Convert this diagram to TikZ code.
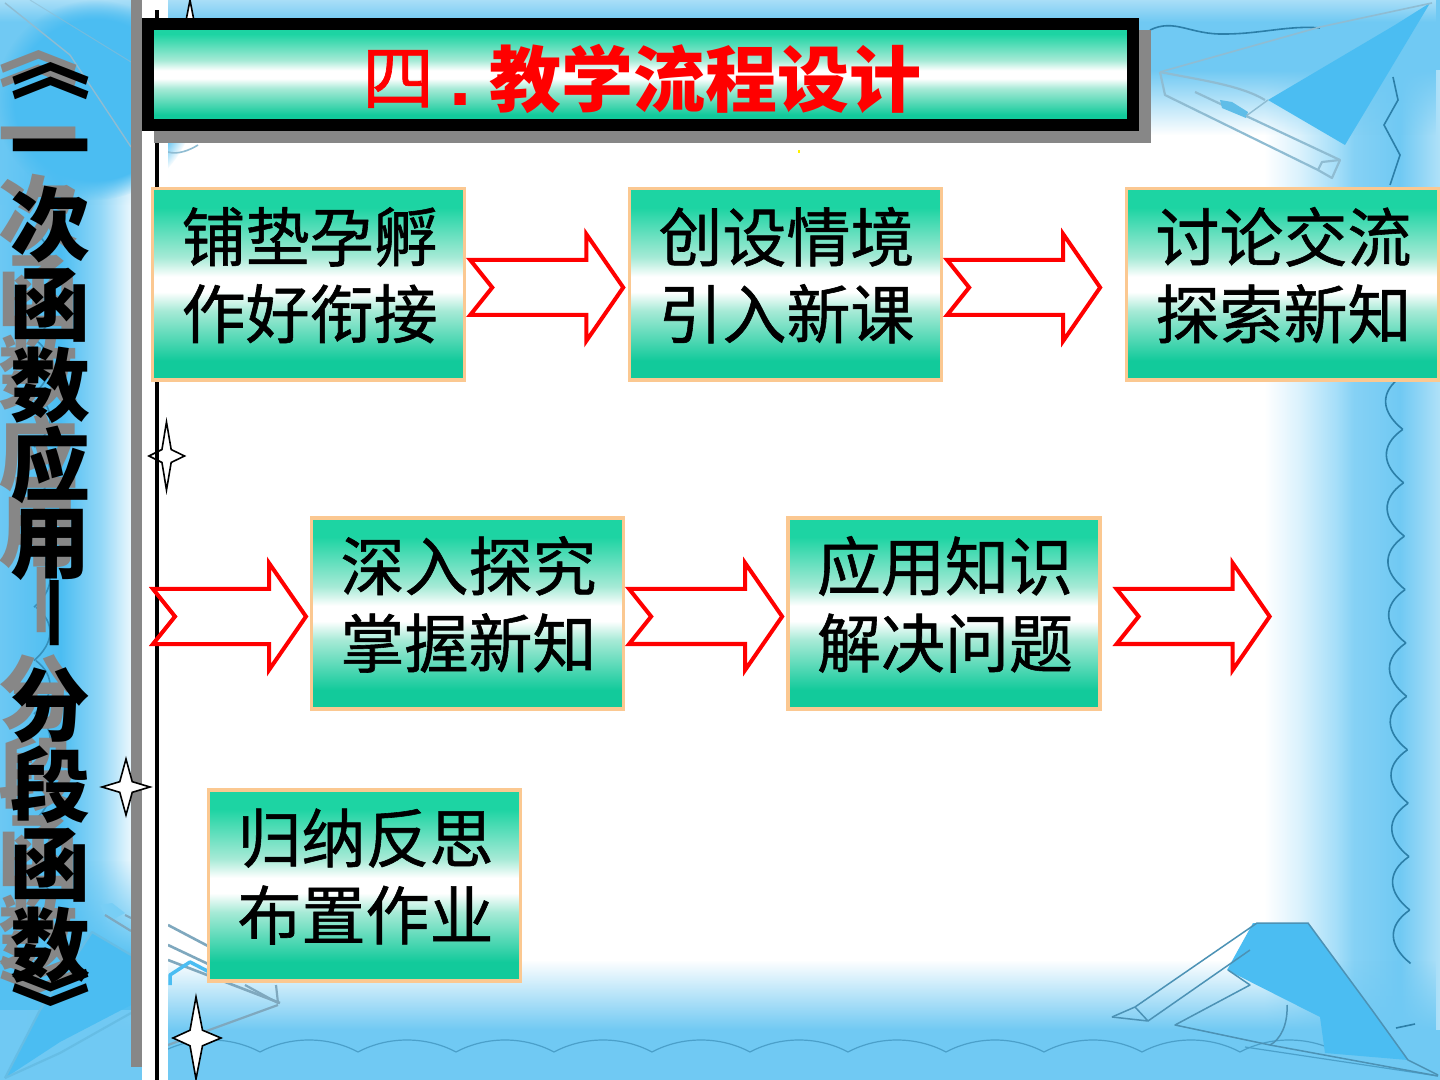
\documentclass[tikz,border=0pt]{standalone}
\usepackage{fontspec}
\usetikzlibrary{calc,fadings}
\newfontfamily\cjk{Noto Sans CJK SC}
\newfontfamily\cjkheavy[FakeBold=0.9]{Noto Sans CJK SC}
\newfontfamily\latinbold{Liberation Sans}

\definecolor{skyblue}{HTML}{70C9F3}
\definecolor{sailblue}{HTML}{4BBDF2}
\definecolor{tealgreen}{HTML}{1DD4A3}
\definecolor{tealdeep}{HTML}{12CA9B}
\definecolor{tealmid}{HTML}{A6EAD6}
\definecolor{peach}{HTML}{FBC891}
\definecolor{sidegray}{HTML}{878787}
\definecolor{waveink}{HTML}{2C7FA8}
\definecolor{boatline}{HTML}{8FBCD2}
\definecolor{boatgray}{HTML}{7FA8BE}

% side-to-side profile of the page colour
\pgfdeclarehorizontalshading{pageprofile}{100bp}{
  color(0bp)=(skyblue);
  color(25bp)=(skyblue!90!sailblue);
  color(27.1bp)=(sailblue);
  color(28.5bp)=(sailblue!60!white);
  color(29.5bp)=(sailblue!14!white);
  color(30.9bp)=(white);
  color(68.9bp)=(white);
  color(70.1bp)=(sailblue!20!white);
  color(71.4bp)=(sailblue!50!white);
  color(72.0bp)=(skyblue!85!white);
  color(73.6bp)=(skyblue);
  color(74.4bp)=(skyblue!75!white);
  color(75bp)=(skyblue!55!white);
  color(100bp)=(skyblue!55!white)}

% green band with a white stripe across the middle
\pgfdeclareverticalshading{tealband}{100bp}{
  color(0bp)=(tealdeep);
  color(25bp)=(tealdeep);
  color(30bp)=(tealdeep);
  color(43bp)=(tealmid);
  color(48bp)=(white);
  color(52bp)=(white);
  color(57bp)=(tealmid);
  color(70bp)=(tealgreen);
  color(75bp)=(tealgreen);
  color(100bp)=(tealgreen)}

\tikzfading[name=fadedown, top color=transparent!0, bottom color=transparent!100]
\tikzfading[name=fadeup, top color=transparent!100, bottom color=transparent!0]

\tikzset{
  x=0.75pt, y=-0.75pt,
  flowbox/.style={rectangle, draw=peach, line width=3.5*0.75pt, shading=tealband,
    minimum width=311.8*0.75pt, minimum height=191.2*0.75pt, inner sep=0pt},
  flowtext/.style={align=center, inner sep=0pt, text=black,
    font=\cjkheavy\fontsize{48}{57.75}\selectfont},
  titleframe/.style={rectangle, draw=black, line width=12*0.75pt, shading=tealband,
    minimum width=985*0.75pt, minimum height=101*0.75pt, inner sep=0pt},
  titleshadow/.style={rectangle, fill=sidegray, inner sep=0pt,
    minimum width=997*0.75pt, minimum height=113*0.75pt},
  titletext/.style={inner sep=0pt, text=red, font=\cjkheavy\fontsize{54}{60}\selectfont},
  titlebold/.style={inner sep=0pt, text=red, font=\cjk\bfseries\fontsize{54}{60}\selectfont},
  flowarrow/.style={draw=red, fill=white, line width=4*0.75pt, line join=miter},
  sparkle/.style={draw=black, fill=white, line width=1.6*0.75pt, line join=miter},
  sideshade/.style={inner sep=0pt, text=sidegray, font=\cjk\bfseries\fontsize{60}{60}\selectfont},
  sideink/.style={inner sep=0pt, text=black, font=\cjk\bfseries\fontsize{60}{60}\selectfont},
  wave/.style={draw=waveink, line width=1.6*0.75pt},
  boat/.style={draw=boatline, line width=2.2*0.75pt, line join=round},
  boatdark/.style={draw=waveink!85!white, line width=1.5*0.75pt, line join=round},
}

\newcommand{\flowbox}[5]{%
  \node[flowbox] (#1) at (#2,#3) {};
  \node[flowtext] (#1-text) at ($(#1.center)+(1,-9)$) {#4\\#5};
}
\newcommand{\flowarrowfrom}[1]{%
  \draw[flowarrow] (#1) ++(22,0) -- ++(-22,-27.5) -- ++(116,0) -- ++(0,-26)
    -- ++(37,53.5) -- ++(-37,53.5) -- ++(0,-26) -- ++(-116,0) -- cycle;
}
\newcommand{\sparklestar}[5]{% centre x, centre y, left, right, half height
  \draw[sparkle] (#1,#2-#5)
    -- (#1+0.26*#4,#2-0.19*#5) -- (#1+#4,#2) -- (#1+0.26*#4,#2+0.19*#5)
    -- (#1,#2+#5) -- (#1-0.26*#3,#2+0.19*#5) -- (#1-#3,#2)
    -- (#1-0.26*#3,#2-0.19*#5) -- cycle;
}
% one entry per glyph of the vertical lesson title
\newcommand{\sideglyphs}[3]{%
  \foreach \n/\xx/\yy/\ch/\rr in {
    1/51/62/《/-90, 2/51/158/一/0, 3/51/225/次/0, 4/51/305/函/0, 5/51/385/数/0,
    6/51/465/应/0, 7/51/545/用/0, 8/45/613/—/-90, 9/51/705/分/0, 10/51/785/段/0,
    11/51/865/函/0, 12/51/945/数/0, 13/51/1007/》/-90} {
    \node[#1, rotate=\rr] (#2\n) at (\xx+#3,\yy+#3) {\ch};
  }
}

\begin{document}
\begin{tikzpicture}
\useasboundingbox (0,0) rectangle (1440,1080);

% page colour
\shade[shading=pageprofile] (0,0) rectangle (1440,1080);
\fill[skyblue] (0,0) rectangle (1440,70);
\fill[skyblue, path fading=fadedown] (0,70) rectangle (1440,135);
\fill[skyblue!80!sailblue, path fading=fadedown] (0,70) rectangle (131,205);
\fill[white, opacity=0.4, path fading=fadedown] (0,0) rectangle (1440,22);
\fill[sailblue, path fading=circle with fuzzy edge 20 percent] (95,100) circle (100);
\fill[skyblue] (0,1030) rectangle (1440,1080);
\fill[skyblue, path fading=fadeup] (0,960) rectangle (1440,1030);
\fill[sailblue!75!skyblue, path fading=fadeup] (0,860) rectangle (131,960);
\fill[sailblue!75!skyblue] (0,960) rectangle (131,1010);
\fill[skyblue, path fading=fadedown] (0,1010) rectangle (131,1060);

% scalloped lines along the right, left and lower edges
\draw[wave] (1393,77) -- (1398,100) -- (1384,125) -- (1400,155) -- (1390,185);
\foreach \yy in {376,429.4,...,950} {
  \pgfmathsetmacro{\nn}{\yy+53.4}
  \pgfmathsetmacro{\ca}{1402+(\yy-376)*0.0145}
  \pgfmathsetmacro{\cb}{\ca+0.8}
  \draw[wave] (\ca,\yy) .. controls (\ca-23,\yy+16) and (\ca-21,\yy+36) .. (\cb,\nn);
}
\draw[wave] (1396,1028) -- (1415,1024);
\foreach \yy in {180,233.4,...,880} {
  \pgfmathsetmacro{\nn}{\yy+53.4}
  \draw[wave, draw opacity=0.75] (36,\yy) .. controls (56,\yy+16) and (54,\yy+36) .. (34,\nn);
}
\foreach \xx in {162,260,...,1300} {
  \pgfmathsetmacro{\nn}{\xx+98}
  \draw[wave, draw=waveink!55!skyblue, line width=1.2*0.75pt]
    (\xx,1052) .. controls (\xx+30,1036) and (\xx+68,1036) .. (\nn,1052);
}
\draw[wave, draw=waveink!55!skyblue, line width=1.2*0.75pt] (1245,1047) -- (1438,1076);
\draw[wave] (1150,30) .. controls (1175,18) and (1190,35) .. (1225,34)
  .. controls (1260,34) and (1290,25) .. (1320,28);

% sailing boat at the upper right
\fill[sailblue] (1430,3) -- (1345,145) -- (1268,100) -- (1395,25) -- cycle;
\draw[boat, line width=1.6*0.75pt] (1160,72) -- (1320,27) -- (1432,3);
\draw[boat] (1160,72) -- (1165,95) -- (1318,170) -- (1332,178) -- (1340,160) -- (1195,92);
\draw[boat] (1160,72) .. controls (1200,80) and (1240,85) .. (1265,100);
\draw[boat] (1318,170) -- (1322,162) -- (1340,160);
\fill[sailblue!70!boatline] (1220,100) -- (1232,102) -- (1248,112) -- (1246,118) -- (1222,108) -- cycle;
\draw[boat, line width=1.4*0.75pt] (1246,116) -- (1268,100);

% sailing boat at the lower right
\fill[sailblue] (1253,923) -- (1308,923) -- (1408,1060) -- (1325,1053) -- (1320,1017) -- (1227,970) -- cycle;
\draw[boatdark] (1112,1017) -- (1135,1007) -- (1257,923) -- (1308,923) -- (1372,1010) -- (1408,1060) -- (1438,1075);
\draw[boatdark] (1112,1017) -- (1148,1021) -- (1135,1007);
\draw[boatdark] (1148,1021) -- (1250,950);
\draw[boatdark] (1228,970) -- (1250,985) -- (1175,1025) -- (1270,1045) -- (1438,1076);
\draw[boatdark] (1287,1005) .. controls (1288,1025) and (1280,1040) .. (1270,1045);

% sailing boat at the lower left
\fill[sailblue] (92,932) -- (131,955) -- (131,1005) -- (60,1042) -- (5,1078) -- (40,1010) -- cycle;
\fill[sailblue!75!white] (100,905) -- (112,903) -- (125,913) -- (108,922) -- cycle;
\draw[boat, draw=boatgray] (105,915) -- (131,931);
\draw[boat, draw=boatgray] (125,915) -- (131,918);
\draw[boat, draw=sailblue!60!boatline] (5,1078) -- (40,1010) -- (92,932) -- (131,955);
\draw[boat, draw=sailblue!60!boatline] (5,1078) -- (60,1053) -- (131,1013);
\draw[boat, draw=boatgray, line width=2.6*0.75pt] (168,925) -- (225,955);
\draw[boat, draw=boatgray, line width=2.6*0.75pt] (168,945) -- (225,972);
\draw[boat, draw=boatgray, line width=2.6*0.75pt] (168,960) -- (280,1003);
\draw[boat, draw=sailblue, line width=3.5*0.75pt] (170,985) -- (170,975) -- (190,962) -- (215,975);
\draw[boat, draw=boatgray] (245,985) -- (278,1003) -- (276,985);
\draw[boat, draw=boatgray] (278,1005) -- (168,1045);

% faint rigging at the upper left
\draw[boat, line width=1.4*0.75pt] (5,3) -- (70,55) -- (131,147);
\draw[boat, line width=1*0.75pt, opacity=0.6] (30,0) -- (131,62);
\draw[boat, line width=1.6*0.75pt] (168,152) .. controls (178,155) and (190,150) .. (198,145);

% vertical rules beside the panel
\fill[sidegray] (131,0) rectangle (142,1067);
\fill[white] (142,0) rectangle (168,1080);

% sparkles
\sparklestar{190}{40}{24}{24}{40}
\sparklestar{166.5}{456}{17.5}{18}{34}
\sparklestar{126}{787}{24}{24}{28}
\sparklestar{196}{1038}{23}{25}{41}
\fill[black] (155,10) rectangle (159,1080);
\fill[yellow] (797.5,150) rectangle (799.5,153);

% heading
\node[titleshadow] (titleback) at (652.5,86.5) {};
\node[titleframe] (title) at (640.5,74.5) {};
\node[titletext] (titlefour) at (398,79) {四};
\node[titlebold, font=\latinbold\bfseries\fontsize{60}{60}\selectfont] (titledot) at (461,100) {.};
\node[titlebold] (titlemain) at (705,79) {教学流程设计};

% flow steps
\flowbox{b1}{308.6}{284.2}{铺垫孕孵}{作好衔接}
\flowbox{b2}{785.5}{284.2}{创设情境}{引入新课}
\flowbox{b3}{1282.5}{284.2}{讨论交流}{探索新知}
\flowbox{b4}{467.5}{613.4}{深入探究}{掌握新知}
\flowbox{b5}{944}{613.4}{应用知识}{解决问题}
\flowbox{b6}{364.5}{885.5}{归纳反思}{布置作业}

% hollow arrows leading from step to step
\coordinate (a1) at ($(b1.east)+(4,3.3)$);
\coordinate (a2) at ($(b2.east)+(4,3.3)$);
\coordinate (a3) at (153,616.5);
\coordinate (a4) at ($(b4.east)+(4,3.1)$);
\coordinate (a5) at ($(b5.east)+(15,3.1)$);
\flowarrowfrom{a1}
\flowarrowfrom{a2}
\flowarrowfrom{a3}
\flowarrowfrom{a4}
\flowarrowfrom{a5}

% lesson title set vertically down the panel, shadow first
\sideglyphs{sideshade}{shade}{-12.5}
\sideglyphs{sideink}{ink}{0}
\end{tikzpicture}
\end{document}
